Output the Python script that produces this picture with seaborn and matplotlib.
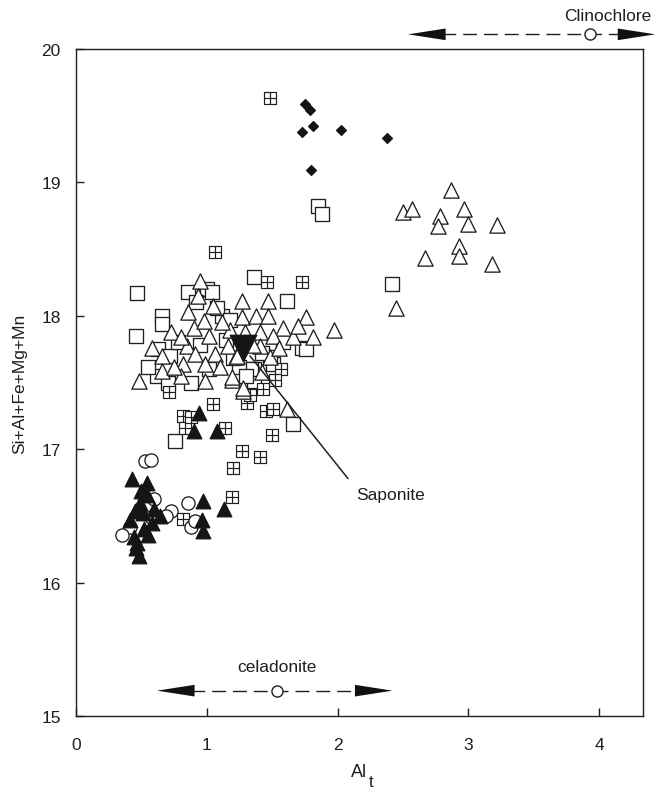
import numpy as np
import matplotlib
matplotlib.use("Agg")
import matplotlib.pyplot as plt
from matplotlib.path import Path
import seaborn as sns

# ---------------- data ----------------
tri_x = [2.87, 2.50, 2.57, 2.78, 2.77, 2.97, 3.00, 3.22, 2.93, 2.93, 2.67, 3.18, 2.45,
         0.95, 0.93, 1.27, 1.47, 1.76, 1.97, 0.86, 1.05, 0.90, 1.27, 1.38, 1.47, 0.73,
         1.58, 1.41, 1.51, 1.66, 1.81, 1.18, 1.29, 0.58, 0.66, 0.85, 0.91, 0.80, 1.06,
         1.16, 0.99, 1.10, 1.22, 0.66, 0.82, 0.80, 0.99, 1.19, 0.48, 1.48, 1.41, 1.28,
         1.61, 1.28, 1.35, 1.02, 1.12, 0.75, 1.55, 1.70, 0.98, 1.42, 1.19, 1.23]
tri_y = [18.94, 18.78, 18.80, 18.75, 18.67, 18.80, 18.69, 18.68, 18.52, 18.45, 18.43, 18.39, 18.06,
         18.26, 18.15, 18.11, 18.11, 17.99, 17.89, 18.03, 18.07, 17.91, 17.99, 18.00, 18.00, 17.88,
         17.91, 17.88, 17.85, 17.84, 17.84, 17.89, 17.88, 17.76, 17.70, 17.77, 17.71, 17.84, 17.71,
         17.77, 17.64, 17.62, 17.69, 17.59, 17.64, 17.55, 17.51, 17.52, 17.51, 17.69, 17.77, 17.44,
         17.30, 17.46, 17.78, 17.85, 17.95, 17.62, 17.76, 17.92, 17.96, 17.58, 17.54, 17.70]

sq_x = [1.36, 0.47, 1.61, 0.86, 1.00, 1.04, 0.66, 0.66, 0.46, 0.63, 0.62, 1.12, 1.08,
        1.18, 1.36, 1.51, 1.36, 1.66, 0.76, 1.73, 1.76, 1.48, 1.34, 2.42, 1.85, 1.88,
        0.72, 0.78, 0.95, 1.02, 1.25, 1.15, 0.92, 1.42, 1.58, 0.55, 0.70, 1.30, 1.20, 0.88]
sq_y = [18.29, 18.17, 18.11, 18.18, 18.20, 18.18, 18.00, 17.94, 17.85, 17.75, 17.55, 18.00, 18.06,
        17.97, 17.60, 17.64, 17.51, 17.19, 17.06, 17.76, 17.75, 17.69, 17.60, 18.24, 18.82, 18.76,
        17.70, 17.80, 17.78, 17.60, 17.62, 17.82, 18.10, 17.72, 17.80, 17.62, 17.50, 17.55, 17.68, 17.50]

csq_x = [1.48, 1.06, 1.46, 1.73, 0.71, 1.57, 1.52, 1.43, 1.31, 1.05, 1.45, 1.51, 1.50,
         0.82, 1.14, 0.83, 0.82, 1.19, 1.27, 1.41, 1.20, 1.33, 0.88]
csq_y = [19.63, 18.48, 18.25, 18.25, 17.43, 17.60, 17.52, 17.45, 17.35, 17.34, 17.29, 17.30, 17.11,
         17.25, 17.16, 17.16, 16.48, 16.64, 16.99, 16.94, 16.86, 17.41, 17.24]

ftri_x = [0.94, 0.90, 1.08, 0.43, 0.54, 0.50, 0.54, 0.45, 0.41, 0.55, 0.44, 0.46, 0.48,
          0.64, 0.97, 0.97, 1.13, 0.96, 0.49, 0.58, 0.52, 0.47, 0.60, 0.51]
ftri_y = [17.27, 17.14, 17.14, 16.78, 16.75, 16.69, 16.66, 16.54, 16.47, 16.36, 16.34, 16.26, 16.20,
          16.50, 16.61, 16.39, 16.55, 16.47, 16.60, 16.45, 16.40, 16.30, 16.55, 16.52]

circ_x = [0.53, 0.57, 0.60, 0.86, 0.73, 0.69, 0.57, 0.88, 0.91, 0.41, 0.35]
circ_y = [16.91, 16.92, 16.63, 16.60, 16.54, 16.50, 16.49, 16.42, 16.46, 16.42, 16.36]

dia_x = [1.75, 1.79, 1.73, 1.81, 2.03, 2.38, 1.80]
dia_y = [19.59, 19.54, 19.38, 19.42, 19.39, 19.33, 19.09]

saponite_x = [1.28]
saponite_y = [17.76]
saponite_line_x = [1.33, 2.08]
saponite_line_y = [17.70, 16.78]
saponite_label = (2.14, 16.66)

celadonite_range = [0.62, 2.42]
celadonite_value = 1.54
celadonite_y = 15.19
celadonite_label_y = 15.37

clino_range = [2.54, 4.43]
clino_value = 3.93
clino_y = 20.11
clino_label = (4.07, 20.25)

x_ticks = [0, 1, 2, 3, 4]
y_ticks = [15, 16, 17, 18, 19, 20]

# ---------------- style ----------------
sns.set_style("white")
plt.rcParams["font.family"] = ["Liberation Sans", "DejaVu Sans"]

INK = "#1f1f1f"

fig = plt.figure(figsize=(6.69, 8.04), dpi=100)
ax = fig.add_axes([0.1136, 0.1082, 0.8475, 0.8296])

# crossed square marker
verts = [(-1, -1), (1, -1), (1, 1), (-1, 1), (-1, -1),
         (0, -1), (0, 1), (-1, 0), (1, 0)]
codes = [Path.MOVETO, Path.LINETO, Path.LINETO, Path.LINETO, Path.CLOSEPOLY,
         Path.MOVETO, Path.LINETO, Path.MOVETO, Path.LINETO]
cross_sq = Path(verts, codes)

lw = 0.95
sns.scatterplot(x=sq_x, y=sq_y, marker="s", s=9.5**2, color="white",
                edgecolor=INK, linewidth=lw, ax=ax, zorder=3)
sns.scatterplot(x=csq_x, y=csq_y, marker=cross_sq, s=8**2, color="white",
                edgecolor=INK, linewidth=lw * 0.9, ax=ax, zorder=3)
sns.scatterplot(x=tri_x, y=tri_y, marker="^", s=11**2, color="white",
                edgecolor=INK, linewidth=lw, ax=ax, zorder=4)
sns.scatterplot(x=circ_x, y=circ_y, marker="o", s=9.5**2, color="white",
                edgecolor=INK, linewidth=lw, ax=ax, zorder=4)
sns.scatterplot(x=ftri_x, y=ftri_y, marker="^", s=10.5**2, color="#151515",
                edgecolor="#151515", linewidth=lw, ax=ax, zorder=5)
sns.scatterplot(x=dia_x, y=dia_y, marker="D", s=5**2, color="#151515",
                edgecolor="#151515", linewidth=lw, ax=ax, zorder=5)
sns.scatterplot(x=saponite_x, y=saponite_y, marker="v", s=19**2, color="#151515",
                edgecolor="#151515", linewidth=lw, ax=ax, zorder=6)

# Saponite leader line and label
ax.plot(saponite_line_x, saponite_line_y, color=INK, lw=1.1, zorder=6)
ax.text(saponite_label[0], saponite_label[1], "Saponite", fontsize=12.5,
        ha="left", va="center", color=INK)


def draw_range(lo, hi, center, y, label, lx, ly):
    ax.plot([lo + 0.1, hi - 0.1], [y, y], color=INK, lw=1.0,
            ls=(0, (10, 5)), clip_on=False, zorder=6)
    for tip, back in ((lo, lo + 0.4), (hi, hi - 0.4)):
        ax.annotate("", xy=(tip, y), xytext=(back, y),
                    arrowprops=dict(arrowstyle="-|>,head_length=2.7,head_width=0.42",
                                    mutation_scale=10, lw=0, color="#111111",
                                    shrinkA=0, shrinkB=0),
                    annotation_clip=False, zorder=7)
    ax.plot([center], [y], marker="o", ms=8, mfc="white", mec=INK, mew=1.0,
            clip_on=False, zorder=8)
    ax.text(lx, ly, label, fontsize=12.5, ha="center", va="center", color=INK)


draw_range(celadonite_range[0], celadonite_range[1], celadonite_value, celadonite_y,
           "celadonite", celadonite_value, celadonite_label_y)
draw_range(clino_range[0], clino_range[1], clino_value, clino_y,
           "Clinochlore", clino_label[0], clino_label[1])

ax.set_xlim(0, 4.336)
ax.set_ylim(15, 20)
ax.set_xticks(x_ticks)
ax.set_yticks(y_ticks)
ax.set_xticklabels([str(v) for v in x_ticks])
ax.set_yticklabels([str(v) for v in y_ticks])
ax.tick_params(direction="in", length=6, width=1, colors=INK, labelsize=12.5,
               top=False, right=False, bottom=True, left=True)
ax.tick_params(axis="x", pad=15)
ax.tick_params(axis="y", pad=11)
for sp in ax.spines.values():
    sp.set_color(INK)
    sp.set_linewidth(1.0)

ax.set_xlabel("Al", fontsize=13, color=INK, labelpad=8)
ax.annotate("t", xy=(1, 0), xycoords=ax.xaxis.label, xytext=(1, 4),
            textcoords="offset points", ha="left", va="top", fontsize=12, color=INK)
ax.set_ylabel("Si+Al+Fe+Mg+Mn", fontsize=12.5, color=INK, labelpad=10)

fig.savefig("out.png", dpi=100)
